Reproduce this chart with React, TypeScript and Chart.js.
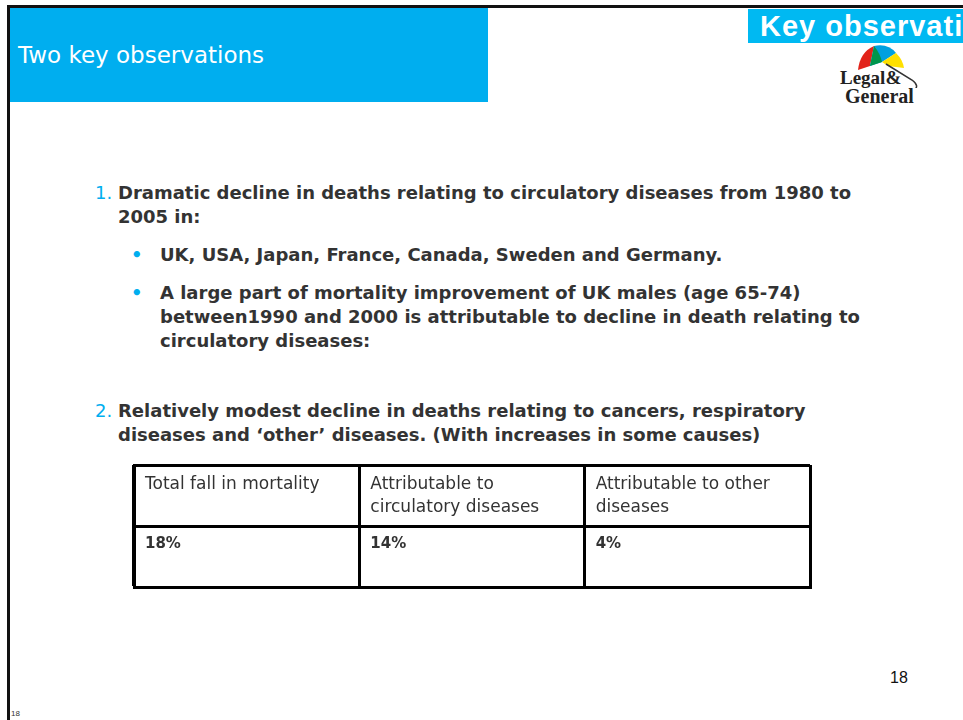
import React, { useEffect, useRef } from "react";
import { Chart, registerables } from "chart.js";

Chart.register(...registerables);

// ---- data ----
const columnKeys = ["total", "circulatory", "other"];
const headerLines = [
  ["Total fall in mortality"],
  ["Attributable to", "circulatory diseases"],
  ["Attributable to other", "diseases"],
];
const falls = [18, 14, 4];
const rowKeys = ["header", "value"];

const point1Lines = [
  "Dramatic decline in deaths relating to circulatory diseases from 1980 to",
  "2005 in:",
];
const bullet1 = "UK, USA, Japan, France, Canada, Sweden and Germany.";
const bullet2Lines = [
  "A large part of mortality improvement of UK males (age 65-74)",
  "between1990 and 2000 is attributable to decline in death relating to",
  "circulatory diseases:",
];
const point2Lines = [
  "Relatively modest decline in deaths relating to cancers, respiratory",
  "diseases and \u2018other\u2019 diseases. (With increases in some causes)",
];

const CYAN = "#00AEEF";
const TEXT = "#333333";
const BODY_FONT = "'DejaVu Sans', 'Liberation Sans', sans-serif";

const tablePlugin = {
  id: "tableText",
  afterDraw(chart: any) {
    const ctx = chart.ctx;
    const xs = chart.scales.x;
    const ys = chart.scales.y;
    const colW = xs.width / columnKeys.length;
    const rowH = ys.height / rowKeys.length;
    const meta = chart.getDatasetMeta(0);
    ctx.save();
    ctx.fillStyle = TEXT;
    ctx.textBaseline = "middle";
    ctx.textAlign = "left";
    // header row
    ctx.font = "17px " + BODY_FONT;
    const hy = ys.getPixelForValue(0);
    columnKeys.forEach((_, i) => {
      const left = xs.getPixelForValue(i) - colW / 2 + 11;
      const top = hy - rowH / 2;
      headerLines[i].forEach((line, j) => {
        ctx.fillText(line, left, top + 20 + j * 23);
      });
    });
    // value row
    ctx.font = "bold 15px " + BODY_FONT;
    meta.data.forEach((pt: any, i: number) => {
      const left = pt.x - colW / 2 + 11;
      const top = pt.y - rowH / 2;
      ctx.fillText(falls[i] + "%", left, top + 18);
    });
    ctx.restore();
  },
};

function TableChart() {
  const ref = useRef<HTMLCanvasElement>(null);
  useEffect(() => {
    const chart = new Chart(ref.current as HTMLCanvasElement, {
      type: "line",
      data: {
        labels: columnKeys,
        datasets: [
          {
            data: falls.map((_, i) => ({ x: columnKeys[i], y: "value" })) as any,
            pointRadius: 0,
            showLine: false,
          },
        ],
      },
      options: {
        animation: false,
        responsive: false,
        events: [],
        layout: { padding: 3 },
        plugins: { legend: { display: false }, tooltip: { enabled: false } },
        scales: {
          x: {
            type: "category",
            labels: columnKeys,
            offset: true,
            grid: { offset: true, color: "#000", lineWidth: 3, drawTicks: false },
            border: { display: true, color: "#000", width: 3 },
            ticks: { display: false },
          },
          y: {
            type: "category",
            labels: rowKeys,
            offset: true,
            grid: { offset: true, color: "#000", lineWidth: 3, drawTicks: false },
            border: { display: true, color: "#000", width: 3 },
            ticks: { display: false },
          },
        },
      },
      plugins: [tablePlugin],
    });
    return () => chart.destroy();
  }, []);
  return (
    <canvas
      ref={ref}
      width={682}
      height={128}
      style={{ position: "absolute", left: 131, top: 462, width: 682, height: 128 }}
    />
  );
}

function Line({ x, y, children, color = TEXT, size = 18, bold = true }: any) {
  return (
    <div
      style={{
        position: "absolute",
        left: x,
        top: y - 12,
        height: 24,
        lineHeight: "24px",
        fontSize: size,
        fontWeight: bold ? 700 : 400,
        color,
        whiteSpace: "nowrap",
        fontFamily: BODY_FONT,
      }}
    >
      {children}
    </div>
  );
}

function Logo() {
  const serif = "'Liberation Serif', 'DejaVu Serif', serif";
  return (
    <div style={{ position: "absolute", left: 836, top: 40, width: 100, height: 66 }}>
      <svg width="100" height="48" style={{ position: "absolute", left: 0, top: 0 }}>
        <path d="M22 30 Q24 12 38 6 L34 26 Z" fill="#e2231a" />
        <path d="M38 6 Q52 3 60 13 L46 22 L34 26 Z" fill="#00a0e0" />
        <path d="M60 13 Q67 20 68 28 L52 26 L46 22 Z" fill="#ffe000" />
        <path d="M38 6 Q44 13 46 22 L34 26 Z" fill="#00964b" />
        <path d="M50 24 L76 40 Q84 46 78 50" stroke="#333" strokeWidth="1.5" fill="none" />
      </svg>
      <div
        style={{
          position: "absolute",
          left: 4,
          top: 31,
          fontFamily: serif,
          fontSize: 19,
          lineHeight: "14px",
          height: 14,
          color: "#222",
          fontWeight: 700,
          whiteSpace: "nowrap",
        }}
      >
        Legal&amp;
      </div>
      <div
        style={{
          position: "absolute",
          left: 9,
          top: 49,
          fontFamily: serif,
          fontSize: 20,
          lineHeight: "14px",
          height: 14,
          color: "#222",
          fontWeight: 700,
          whiteSpace: "nowrap",
        }}
      >
        General
      </div>
    </div>
  );
}

export default function App() {
  return (
    <div
      style={{
        position: "absolute",
        left: 0,
        top: 0,
        width: 963,
        height: 720,
        overflow: "hidden",
        background: "#fff",
        fontFamily: BODY_FONT,
      }}
    >
      {/* frame */}
      <div style={{ position: "absolute", left: 7, top: 5, width: 956, height: 3, background: "#111" }} />
      <div style={{ position: "absolute", left: 7, top: 5, width: 3, height: 715, background: "#111" }} />
      {/* title box */}
      <div style={{ position: "absolute", left: 10, top: 8, width: 478, height: 94, background: CYAN }} />
      <div
        style={{
          position: "absolute",
          left: 18,
          top: 41,
          color: "#fff",
          fontSize: 23,
          fontWeight: 400,
          lineHeight: "28px",
          whiteSpace: "nowrap",
          fontFamily: BODY_FONT,
        }}
      >
        Two key observations
      </div>
      {/* secondary title (cut off at the slide edge, as in the original) */}
      <div
        style={{
          position: "absolute",
          left: 748,
          top: 9,
          width: 215,
          height: 34,
          background: "#00B9F2",
          overflow: "hidden",
        }}
      >
        <div
          style={{
            position: "absolute",
            left: 12,
            top: 0,
            color: "#fff",
            fontSize: 29,
            fontWeight: 700,
            lineHeight: "34px",
            letterSpacing: 1,
            whiteSpace: "nowrap",
            fontFamily: "'Liberation Sans', Arial, sans-serif",
          }}
        >
          Key observations
        </div>
      </div>
      <Logo />

      {/* point 1 */}
      <Line x={95} y={193} color={CYAN} bold={false}>1.</Line>
      {point1Lines.map((t, i) => (
        <Line key={"p1" + i} x={118} y={193 + i * 24}>{t}</Line>
      ))}
      <Line x={131} y={255} color={CYAN}>•</Line>
      <Line x={160} y={255}>{bullet1}</Line>
      <Line x={131} y={293} color={CYAN}>•</Line>
      {bullet2Lines.map((t, i) => (
        <Line key={"b2" + i} x={160} y={293 + i * 24}>{t}</Line>
      ))}
      {/* point 2 */}
      <Line x={95} y={411} color={CYAN} bold={false}>2.</Line>
      {point2Lines.map((t, i) => (
        <Line key={"p2" + i} x={118} y={411 + i * 24}>{t}</Line>
      ))}

      <TableChart />

      {/* page numbers */}
      <div style={{ position: "absolute", left: 890, top: 668, fontSize: 16, color: "#111", lineHeight: "20px", fontFamily: "'Liberation Sans', Arial, sans-serif" }}>18</div>
      <div style={{ position: "absolute", left: 11, top: 709, fontSize: 8, color: "#333", lineHeight: "10px", fontFamily: "'Liberation Sans', Arial, sans-serif" }}>18</div>
    </div>
  );
}
